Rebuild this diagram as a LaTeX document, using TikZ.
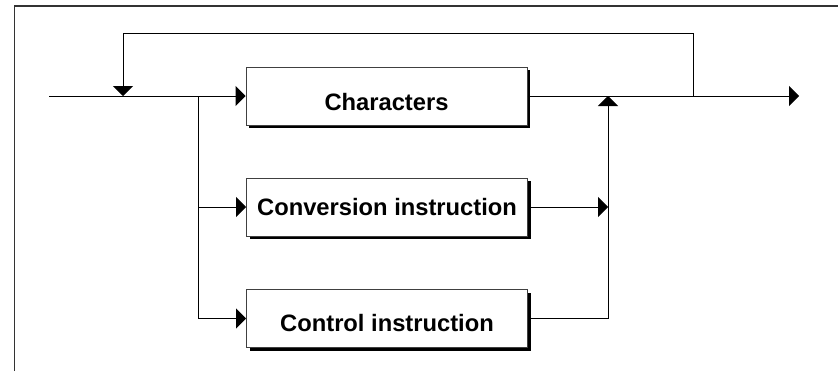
\documentclass[tikz,border=0pt]{standalone}
\usepackage{fontspec}
\setmainfont{Liberation Sans}
\usetikzlibrary{arrows.meta,shadows}
\begin{document}
\begin{tikzpicture}[x=0.75pt,y=-0.75pt,line width=0.75pt,
  tip/.style={-{Triangle[length=7.5pt,width=15pt]}},
  box/.style={draw=black!75,fill=white,minimum width=210.75pt,minimum height=43.5pt,
    inner sep=0pt,font=\fontsize{17.8}{20}\selectfont\bfseries,
    drop shadow={shadow xshift=2.25pt,shadow yshift=-2.25pt,fill=black,opacity=1}}]
  \useasboundingbox (0,0) rectangle (838,371);
  \draw[black!80,line width=1pt] (14.5,371) -- (14.5,6) -- (838,6);

  \node[box,text height=22pt,text depth=0pt] (chars) at (386.5,96) {Characters};
  \node[box] (conv) at (387,207) {Conversion instruction};
  \node[box,text height=19.7pt,text depth=0pt] (ctrl) at (387,318.5) {Control instruction};

  \coordinate (in) at (49,96);
  \coordinate (loopin) at (123,96);
  \coordinate (split) at (198,96);
  \coordinate (join) at (608,96);
  \coordinate (loopout) at (693,96);
  \coordinate (out) at (799,96);
  \coordinate (loopR) at (693,33);
  \coordinate (loopL) at (123,33);
  \coordinate (convin) at (608,207);

  \draw (in) -- (split);
  \draw[tip] (split) -- (chars.west);
  \draw[tip] (split) |- (conv.west);
  \draw[tip] (split) |- (ctrl.west);
  \draw[tip] (chars.east) -- (out);
  \draw[tip] (conv.east) -- (convin);
  \draw[tip] (ctrl.east) -| (join);
  \draw[tip] (loopout) -- (loopR) -- (loopL) -- (loopin);
\end{tikzpicture}
\end{document}
